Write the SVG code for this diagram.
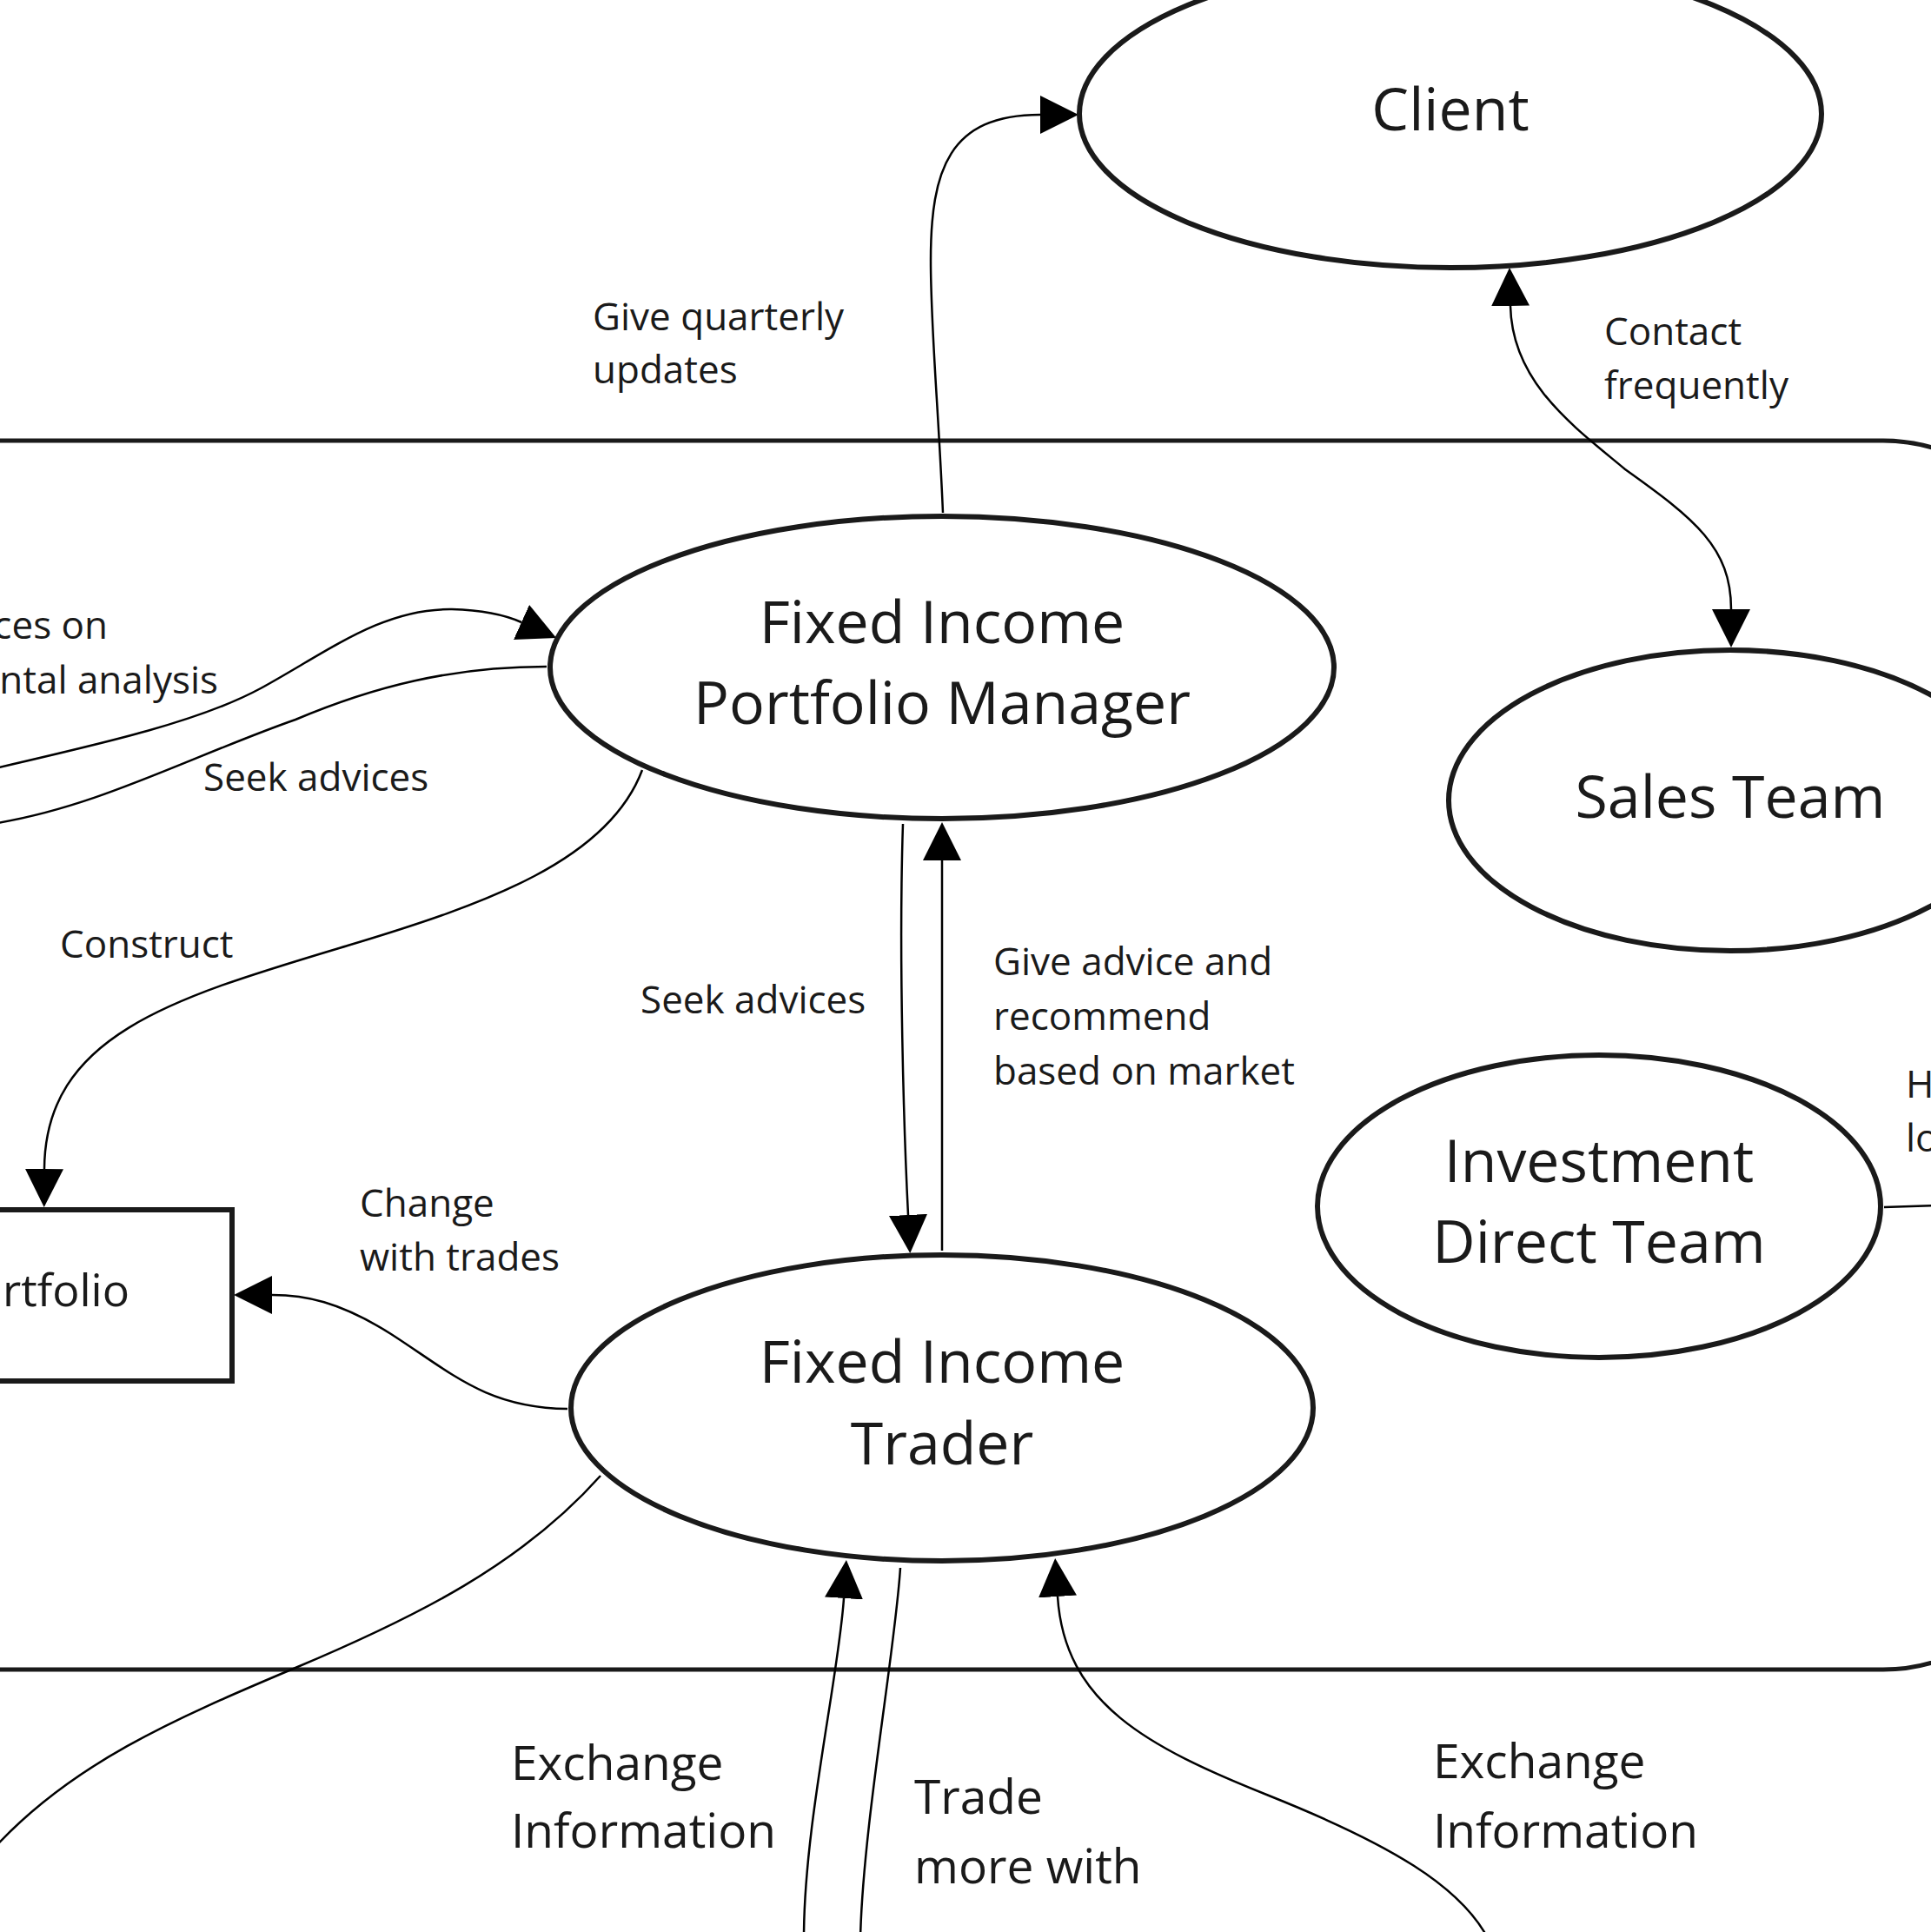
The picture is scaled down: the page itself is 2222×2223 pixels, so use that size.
<svg xmlns="http://www.w3.org/2000/svg" width="2222" height="2223" viewBox="0 0 2222 2223">
<defs>
<style>
.node{fill:#ffffff;stroke:#1a1a1a;stroke-width:6}
.frame{fill:none;stroke:#1a1a1a;stroke-width:5}
.conn{fill:none;stroke:#000000;stroke-width:2.5}
.ntext{font-family:"Open Sans","Noto Sans",sans-serif;font-size:68px;fill:#1a1a1a;text-anchor:middle}
.lbl{font-family:"Open Sans","Noto Sans",sans-serif;font-size:44px;fill:#1a1a1a}
.lbl2{font-family:"Open Sans","Noto Sans",sans-serif;font-size:55px;fill:#1a1a1a}
.ptext{font-family:"Open Sans","Noto Sans",sans-serif;font-size:52px;fill:#1a1a1a;text-anchor:end}
</style>
<marker id="arr" viewBox="0 0 44 44" refX="0" refY="22" markerWidth="44" markerHeight="44" markerUnits="userSpaceOnUse" orient="auto-start-reverse">
<path d="M0,0 L44,22 L0,44 Z" fill="#000000"/>
</marker>
</defs>
<rect width="2222" height="2223" fill="#ffffff"/>
<rect id="boundary" class="frame" x="-200" y="507" width="2567" height="1414" rx="200" ry="200"/>
<g id="connectors">
<path class="conn" d="M 1085 590 C 1080 470, 1071 380, 1071 300 C 1071 195, 1092 132, 1197 132" marker-end="url(#arr)"/>
<path class="conn" d="M 1738 352 C 1740 440, 1810 490, 1870 540 C 1950 597, 1992 630, 1992 701" marker-start="url(#arr)" marker-end="url(#arr)"/>
<path class="conn" d="M 1039 948 C 1034 1100, 1040 1300, 1045 1398" marker-end="url(#arr)"/>
<path class="conn" d="M 1084 1439 L 1084 990" marker-end="url(#arr)"/>
<path class="conn" d="M -10 885 C 120 855, 230 830, 300 792 C 380 748, 440 700, 520 701 C 555 702, 580 707, 600 716" marker-end="url(#arr)"/>
<path class="conn" d="M 629 767 C 520 767, 430 790, 340 828 C 220 870, 110 930, -10 948"/>
<path class="conn" d="M 739 886 C 700 990, 560 1040, 400 1088 C 200 1148, 52 1190, 51 1345" marker-end="url(#arr)"/>
<path class="conn" d="M 653 1621 C 560 1620, 520 1580, 450 1535 C 390 1497, 350 1490, 313 1490" marker-end="url(#arr)"/>
<path class="conn" d="M 691 1698 C 600 1800, 480 1860, 340 1919 C 200 1978, 80 2030, -10 2130"/>
<path class="conn" d="M 925 2230 C 925 2100, 965 1930, 971 1839" marker-end="url(#arr)"/>
<path class="conn" d="M 1036 1804 C 1030 1900, 993 2100, 990 2230"/>
<path class="conn" d="M 1712 2230 C 1680 2170, 1600 2122, 1460 2066 C 1320 2010, 1225 1960, 1217 1837" marker-end="url(#arr)"/>
<path class="conn" d="M 2168 1389 L 2230 1387"/>
</g>
<g id="client">
<ellipse class="node" cx="1669" cy="131" rx="427" ry="177"/>
<text class="ntext" x="1669" y="150">Client</text>
</g>
<g id="pm">
<ellipse class="node" cx="1084" cy="768" rx="451" ry="174"/>
<text class="ntext" x="1084" y="740">Fixed Income</text>
<text class="ntext" x="1084" y="833">Portfolio Manager</text>
</g>
<g id="sales">
<ellipse class="node" cx="1991" cy="921" rx="324" ry="173"/>
<text class="ntext" x="1991" y="941">Sales Team</text>
</g>
<g id="idt">
<ellipse class="node" cx="1840" cy="1388" rx="324" ry="174"/>
<text class="ntext" x="1840" y="1360">Investment</text>
<text class="ntext" x="1840" y="1453">Direct Team</text>
</g>
<g id="trader">
<ellipse class="node" cx="1084" cy="1620" rx="427" ry="176"/>
<text class="ntext" x="1084" y="1591">Fixed Income</text>
<text class="ntext" x="1084" y="1685">Trader</text>
</g>
<g id="portfolio">
<rect class="node" x="-150" y="1392" width="417" height="197"/>
<text class="ptext" x="149" y="1503">Portfolio</text>
</g>
<g id="labels">
<text class="lbl" x="682" y="380">Give quarterly</text>
<text class="lbl" x="682" y="441">updates</text>
<text class="lbl" x="1846" y="397">Contact</text>
<text class="lbl" x="1846" y="459">frequently</text>
<text class="lbl" x="124" y="735" text-anchor="end">ces on</text>
<text class="lbl" x="251" y="798" text-anchor="end">ntal analysis</text>
<text class="lbl" x="234" y="910">Seek advices</text>
<text class="lbl" x="69" y="1102">Construct</text>
<text class="lbl" x="737" y="1166">Seek advices</text>
<text class="lbl" x="1143" y="1122">Give advice and</text>
<text class="lbl" x="1143" y="1185">recommend</text>
<text class="lbl" x="1143" y="1248">based on market</text>
<text class="lbl" x="414" y="1400">Change</text>
<text class="lbl" x="414" y="1462">with trades</text>
<text class="lbl" x="2193" y="1263">H</text>
<text class="lbl" x="2193" y="1325">lo</text>
<text class="lbl2" x="588" y="2048">Exchange</text>
<text class="lbl2" x="588" y="2126">Information</text>
<text class="lbl2" x="1052" y="2087">Trade</text>
<text class="lbl2" x="1052" y="2167">more with</text>
<text class="lbl2" x="1649" y="2046">Exchange</text>
<text class="lbl2" x="1649" y="2126">Information</text>
</g>
</svg>
